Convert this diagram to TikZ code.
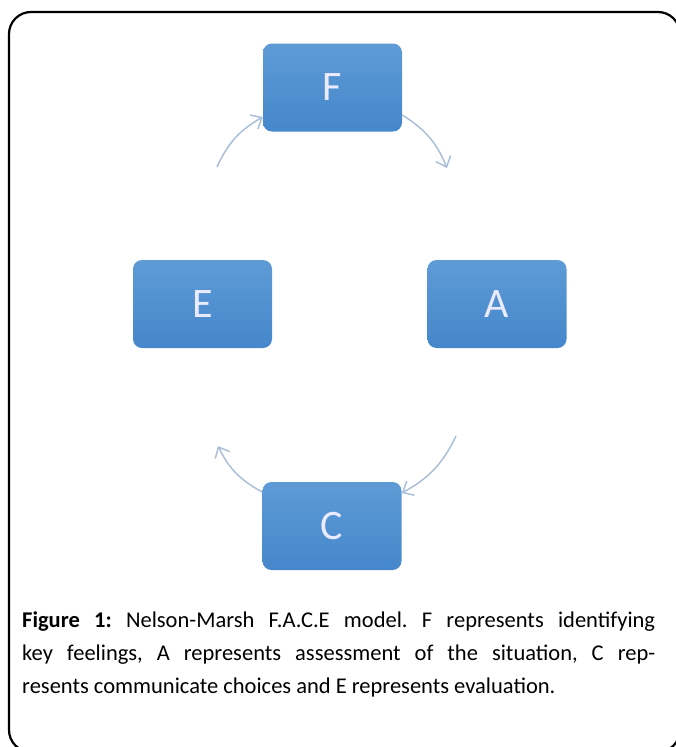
\documentclass[tikz,border=0pt]{standalone}
\usepackage{fontspec}
\setmainfont{Carlito}
\usetikzlibrary{arrows.meta}
\tikzset {>={Straight Barb[length=9pt,width=16pt,line width=1.5pt]}}
\definecolor{boxtop}{HTML}{5E9BD6}
\definecolor{boxbot}{HTML}{4587CB}
\definecolor{arrowcol}{HTML}{ABBFD8}
\tikzset{stage/.style={rounded corners=9pt,top color=boxtop,bottom color=boxbot,
    minimum width=139pt,minimum height=88pt,inner sep=0pt,
    text=white!92!blue,font=\fontsize{42}{42}\selectfont},
  cycle/.style={->,draw=arrowcol,line width=1.5pt}}

\begin{document}
\begin{tikzpicture}[x=1pt,y=-1pt]
\useasboundingbox (0,0) rectangle (676,747);
\draw[line width=2.2pt,rounded corners=22pt] (9,12) rectangle (680,752);

\node[stage] (F) at (332.5,87.5) {F};
\node[stage] (E) at (202.5,304) {E};
\node[stage] (A) at (497,304) {A};
\node[stage] (C) at (332,526) {C};

\coordinate (fin) at (217,167);
\coordinate (fout) at (447,168);
\coordinate (cin) at (456,436);
\coordinate (cout) at (218,446);

\draw[cycle] (fin) to[bend left=18] (F.south west |- 0,117);
\draw[cycle] (F.south east |- 0,115) to[bend left=18] (fout);
\draw[cycle] (cin) to[bend left=18] (C.north east |- 0,493);
\draw[cycle] (C.north west |- 0,492) to[bend left=18] (cout);

\node[anchor=north west,text width=633pt,align=justify,inner sep=0pt,
  font=\fontsize{22.5}{33}\selectfont\frenchspacing] (cap) at (22,612)
  {\textbf{Figure 1:} Nelson-Marsh F.A.C.E model. F represents identifying\linebreak
   key feelings, A represents assessment of the situation, C rep-\linebreak
   resents communicate choices and E represents evaluation.};
\end{tikzpicture}
\end{document}
